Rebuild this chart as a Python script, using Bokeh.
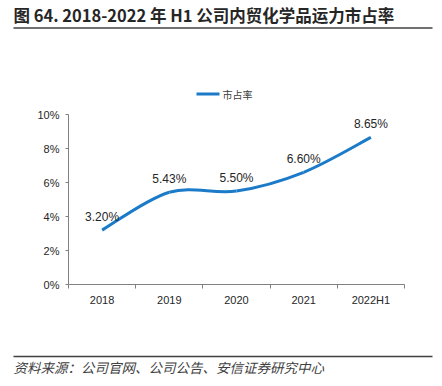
from bokeh.plotting import figure
from bokeh.layouts import column
from bokeh.models import Range1d, FixedTicker, PrintfTickFormatter, ColumnDataSource
from bokeh.core.properties import value
from bokeh.embed import file_html
from bokeh.resources import INLINE

categories = ["2018", "2019", "2020", "2021", "2022H1"]
share = [3.20, 5.43, 5.50, 6.60, 8.65]
y_ticks = [0, 2, 4, 6, 8, 10]
title_text = "图 64. 2018-2022 年 H1 公司内贸化学品运力市占率"
legend_text = "市占率"
source_text = "资料来源：公司官网、公司公告、安信证券研究中心"

W = 426
W_DECO = 434
H_HEAD, H_MAIN, H_FOOT = 105, 235, 42
BLUE = "#1B7BC8"
FONT = "Liberation Sans"
CJK = "Noto Sans CJK SC"
TXT = "#262626"


def blank(h):
    f = figure(width=W_DECO, height=h, output_backend="svg", toolbar_location=None,
               x_range=Range1d(0, W_DECO), y_range=Range1d(h, 0),
               x_axis_location=None, y_axis_location=None, min_border=0)
    f.outline_line_color = None
    f.xgrid.visible = False
    f.ygrid.visible = False
    f.frame_align = False
    return f


# ---- header: title, rule and legend
head = blank(H_HEAD)
head.text(x=[13], y=[14], text=[title_text], text_font=value(CJK),
          text_font_size="16.5px", text_font_style="bold", text_color=TXT,
          text_baseline="middle", text_align="left")
head.segment(x0=[13], y0=[27.5], x1=[432], y1=[27.5], line_color="#404040", line_width=1.5)
head.segment(x0=[196], y0=[93.5], x1=[219], y1=[93.5], line_color=BLUE, line_width=3)
head.text(x=[222], y=[93.5], text=[legend_text], text_font=value(CJK),
          text_font_size="10px", text_color="#404040", text_baseline="middle")

# ---- main chart
p = figure(width=W, height=H_MAIN, output_backend="svg", toolbar_location=None,
           x_range=Range1d(0, len(categories)), y_range=Range1d(0, 10),
           min_border_left=68, min_border_right=22, min_border_top=9,
           min_border_bottom=56)
p.outline_line_color = None
p.xgrid.visible = False
p.ygrid.visible = False
p.frame_align = False

xs = [i + 0.5 for i in range(len(categories))]

# smoothed line (Excel-like): bezier segments through the data points
n = len(xs)
x0, y0, x1, y1, cx0, cy0, cx1, cy1 = [], [], [], [], [], [], [], []
for i in range(n - 1):
    pxm, pym = (xs[i - 1], share[i - 1]) if i > 0 else (xs[i], share[i])
    pxp, pyp = (xs[i + 2], share[i + 2]) if i + 2 < n else (xs[i + 1], share[i + 1])
    x0.append(xs[i]); y0.append(share[i])
    x1.append(xs[i + 1]); y1.append(share[i + 1])
    cx0.append(xs[i] + (xs[i + 1] - pxm) / 6); cy0.append(share[i] + (share[i + 1] - pym) / 6)
    cx1.append(xs[i + 1] - (pxp - xs[i]) / 6); cy1.append(share[i + 1] - (pyp - share[i]) / 6)
p.bezier(x0=x0, y0=y0, x1=x1, y1=y1, cx0=cx0, cy0=cy0, cx1=cx1, cy1=cy1,
         line_color=BLUE, line_width=3)

src = ColumnDataSource(dict(x=xs, y=share, t=[f"{v:.2f}%" for v in share]))
p.text(x="x", y="y", text="t", source=src, text_align="center",
       text_baseline="middle", y_offset=-13, text_font=value(FONT),
       text_font_size="12px", text_color=TXT)

AX = "#808080"
p.xaxis.ticker = FixedTicker(ticks=xs, minor_ticks=list(range(len(categories) + 1)))
p.xaxis.major_label_overrides = {x: c for x, c in zip(xs, categories)}
p.xaxis.major_tick_out = 0
p.xaxis.major_tick_in = 0
p.xaxis.minor_tick_out = 4
p.xaxis.minor_tick_in = 0
p.xaxis.minor_tick_line_color = AX
p.xaxis.axis_line_color = AX
p.xaxis.major_label_standoff = 5
p.yaxis.ticker = FixedTicker(ticks=y_ticks)
p.yaxis.formatter = PrintfTickFormatter(format="%d%%")
p.yaxis.major_tick_out = 3
p.yaxis.major_tick_in = 0
p.yaxis.minor_tick_line_color = None
p.yaxis.axis_line_color = AX
p.yaxis.major_tick_line_color = AX
p.yaxis.major_label_standoff = 6
for ax in (p.xaxis, p.yaxis):
    ax.major_label_text_font = FONT
    ax.major_label_text_font_size = "11px"
    ax.major_label_text_color = TXT

# ---- footer: rule and source
foot = blank(H_FOOT)
foot.segment(x0=[13], y0=[16], x1=[432], y1=[16], line_color="#404040", line_width=1.5)
foot.text(x=[13], y=[26], text=[source_text], text_font=value(CJK),
          text_font_size="13.5px", text_font_style="italic", text_color="#404040",
          text_baseline="middle")

layout = column(head, p, foot, spacing=0)
open("out.html", "w").write(file_html(layout, INLINE))
